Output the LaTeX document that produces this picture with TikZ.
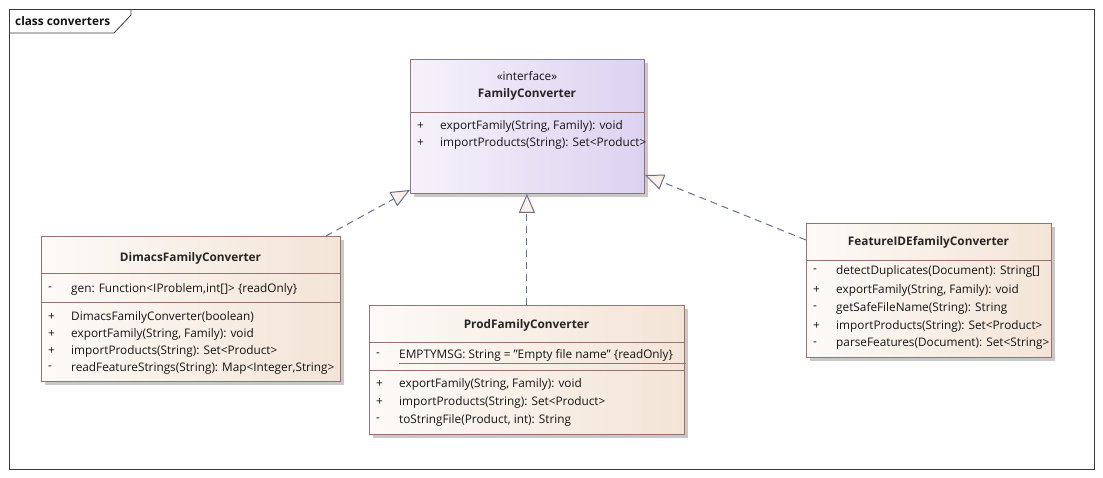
\documentclass[tikz,border=0pt]{standalone}
\usepackage{fontspec}
\setmainfont{Open Sans}
\usetikzlibrary{arrows.meta,shadows,calc}

\definecolor{frameline}{HTML}{3A3A3A}
\definecolor{classline}{HTML}{967272}
\definecolor{classleft}{HTML}{FDFAF7}
\definecolor{classright}{HTML}{F3E4D6}
\definecolor{ifaceleft}{HTML}{F6F2FB}
\definecolor{ifaceright}{HTML}{DCD2F0}
\definecolor{realline}{HTML}{66708F}
\definecolor{tipfill}{HTML}{FBF0E8}
\definecolor{shadowgray}{HTML}{C8C8C8}

\tikzset{
  umlbox/.style={draw=classline, line width=0.8pt, anchor=north west,
    left color=classleft, right color=classright, shading angle=90,
    drop shadow={shadow xshift=3.5pt, shadow yshift=-3.5pt, fill=shadowgray, opacity=1}},
  ifacebox/.style={umlbox, left color=ifaceleft, right color=ifaceright},
  divider/.style={draw=classline, line width=0.8pt},
  txt/.style={inner sep=0pt, font=\fontsize{11.8}{13}\selectfont, text=black!92},
  member/.style={txt, anchor=west},
  cname/.style={txt, font=\fontsize{11.8}{13}\selectfont\bfseries, text=black!85},
  realize/.style={draw=realline, line width=1pt, dash pattern=on 7pt off 5pt,
    -{Triangle[open, length=19pt, width=16pt, fill=tipfill]}},
}

\begin{document}
\begin{tikzpicture}[x=1pt, y=-1pt]
\useasboundingbox (0,0) rectangle (1103,478);
\fill[white] (0,0) rectangle (1103,478);

% diagram frame with its name tab
\draw[frameline, line width=0.8pt] (9,9) rectangle (1094,469);
\draw[frameline, line width=0.8pt] (9,33) -- (114,33) -- (131,15) -- (131,9);
\node[txt, anchor=west, font=\fontsize{11.8}{13}\selectfont\bfseries] (title) at (15,21) {class converters};

% interface FamilyConverter
\node[ifacebox, minimum width=234pt, minimum height=134pt] (fc) at (410,59) {};
\node[txt] (fc-st) at (527,76) {«interface»};
\node[cname] (fc-name) at (527,94) {FamilyConverter};
\draw[divider] (fc.west |- 0,112) -- (fc.east |- 0,112);
\node[member] (fc-v1) at (417,126) {+};
\node[member] (fc-o1) at (440,126) {exportFamily(String, Family): void};
\node[member] (fc-v2) at (417,143) {+};
\node[member] (fc-o2) at (440,143) {importProducts(String): Set<Product>};

% class DimacsFamilyConverter
\node[umlbox, minimum width=299pt, minimum height=145pt] (dim) at (41,236) {};
\node[cname] (dim-name) at (190.5,258) {DimacsFamilyConverter};
\draw[divider] (dim.west |- 0,273) -- (dim.east |- 0,273);
\node[member] (dim-va) at (48,289) {-};
\node[member] (dim-a1) at (71,289) {gen: Function<IProblem,int[]> \{readOnly\}};
\draw[divider] (dim.west |- 0,302) -- (dim.east |- 0,302);
\node[member] (dim-v1) at (48,317) {+};
\node[member] (dim-o1) at (71,317) {DimacsFamilyConverter(boolean)};
\node[member] (dim-v2) at (48,334) {+};
\node[member] (dim-o2) at (71,334) {exportFamily(String, Family): void};
\node[member] (dim-v3) at (48,351) {+};
\node[member] (dim-o3) at (71,351) {importProducts(String): Set<Product>};
\node[member] (dim-v4) at (48,368) {-};
\node[member] (dim-o4) at (71,368) {readFeatureStrings(String): Map<Integer,String>};

% class ProdFamilyConverter
\node[umlbox, minimum width=315pt, minimum height=129pt] (prod) at (369,305) {};
\node[cname] (prod-name) at (526.5,325) {ProdFamilyConverter};
\draw[divider] (prod.west |- 0,342) -- (prod.east |- 0,342);
\node[member] (prod-va) at (376,355) {-};
\node[member] (prod-a1) at (399,355) {EMPTYMSG: String = "Empty file name" \{readOnly\}};
\draw[divider] (prod-a1.west |- 0,363) -- (686,363);
\draw[divider] (prod.west |- 0,370) -- (prod.east |- 0,370);
\node[member] (prod-v1) at (376,384) {+};
\node[member] (prod-o1) at (399,384) {exportFamily(String, Family): void};
\node[member] (prod-v2) at (376,402) {+};
\node[member] (prod-o2) at (399,402) {importProducts(String): Set<Product>};
\node[member] (prod-v3) at (376,420) {-};
\node[member] (prod-o3) at (399,420) {toStringFile(Product, int): String};

% class FeatureIDEfamilyConverter
\node[umlbox, minimum width=245pt, minimum height=134pt] (feat) at (806,223) {};
\node[cname] (feat-name) at (928.5,242) {FeatureIDEfamilyConverter};
\draw[divider] (feat.west |- 0,260) -- (feat.east |- 0,260);
\node[member] (feat-v1) at (813,271) {-};
\node[member] (feat-o1) at (836,271) {detectDuplicates(Document): String[]};
\node[member] (feat-v2) at (813,290) {+};
\node[member] (feat-o2) at (836,290) {exportFamily(String, Family): void};
\node[member] (feat-v3) at (813,308) {-};
\node[member] (feat-o3) at (836,308) {getSafeFileName(String): String};
\node[member] (feat-v4) at (813,326) {+};
\node[member] (feat-o4) at (836,326) {importProducts(String): Set<Product>};
\node[member] (feat-v5) at (813,344) {-};
\node[member] (feat-o5) at (836,344) {parseFeatures(Document): Set<String>};

% realizations of the interface
\draw[realize] (dim.north -| 326,0) -- (fc.west |- 0,190);
\draw[realize] (prod.north) -- (prod.north |- fc.south);
\draw[realize] (feat.west |- 0,240) -- (fc.east |- 0,175);
\end{tikzpicture}
\end{document}
